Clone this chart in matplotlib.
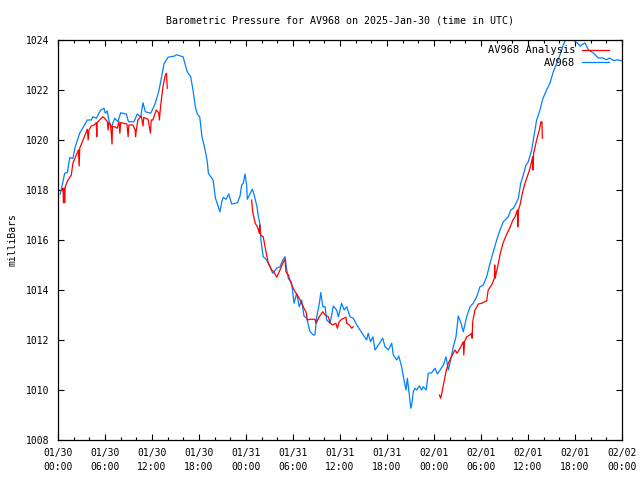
import matplotlib
matplotlib.use("Agg")
import matplotlib.pyplot as plt
import matplotlib.dates as mdates
import pandas as pd

# hours since 2025-01-30 00:00 UTC, pressure in millibars
obs_hours = [
    0.3, 0.85, 1.2, 1.5, 1.9, 2.2, 2.77, 3.2, 3.74, 4.25, 4.47, 4.9, 5.45, 5.87,
    6.04, 6.3, 6.47, 6.8, 7.23, 7.65, 8.0, 8.72, 9.0, 9.7, 10.12, 10.55, 10.85,
    11.15, 11.83, 12.34, 12.85, 13.19, 13.53, 14.04, 14.9, 15.1, 15.96, 16.5,
    16.94, 17.23, 17.53, 17.78, 18.09, 18.38, 18.73, 19.06, 19.2, 19.5, 19.8,
    20.1, 20.47, 20.68, 20.9, 21.1, 21.45, 21.8, 22.17, 22.9, 23.24, 23.45,
    23.65, 23.87, 24.08, 24.17, 24.5, 24.8, 25.05, 25.4, 25.57, 25.8, 25.9,
    26.2, 26.64, 27.07, 27.4, 27.92, 28.34, 28.69, 28.98, 29.2, 29.4, 29.83,
    30.13, 30.47, 30.8, 31.1, 31.4, 31.75, 32.17, 32.6, 32.8, 33.03, 33.37,
    33.55, 33.8, 34.1, 34.3, 34.73, 35.15, 35.57, 35.8, 36.2, 36.53, 36.86,
    37.28, 37.7, 38.14, 38.56, 38.98, 39.4, 39.6, 39.9, 40.2, 40.47, 40.9,
    41.45, 41.75, 42.17, 42.6, 42.8, 43.24, 43.5, 43.87, 44.17, 44.43, 44.6,
    44.85, 45.03, 45.15, 45.36, 45.57, 45.8, 46.13, 46.42, 46.63, 47.0, 47.27,
    47.7, 48.13, 48.43, 48.77, 49.2, 49.53, 49.83, 50.04, 50.46, 50.81, 51.1,
    51.45, 51.74, 52.17, 52.6, 53.0, 53.45, 53.87, 54.3, 54.72, 55.15, 55.57,
    56.0, 56.43, 56.85, 57.49, 57.8, 58.13, 58.47, 58.77, 59.07, 59.4, 59.75,
    60.04, 60.47, 60.68, 61.1, 61.53, 61.87, 62.38, 62.8, 63.23, 63.66, 64.08,
    64.5, 64.85, 65.4, 66.0, 66.3, 66.7, 66.85, 67.28, 67.7, 68.34, 68.98,
    69.6, 70.0, 70.4, 70.97, 71.4, 72.0,
]
obs_mb = [
    1017.84, 1018.67, 1018.7, 1019.3, 1019.26, 1019.73, 1020.27, 1020.5, 1020.8,
    1020.8, 1020.93, 1020.87, 1021.2, 1021.27, 1021.07, 1021.16, 1020.8, 1020.5,
    1020.87, 1020.73, 1021.09, 1021.04, 1020.73, 1020.73, 1021.04, 1020.91,
    1021.49, 1021.13, 1021.07, 1021.4, 1021.93, 1022.47, 1023.04, 1023.31,
    1023.36, 1023.41, 1023.33, 1022.73, 1022.53, 1022.0, 1021.33, 1021.04,
    1020.93, 1020.13, 1019.67, 1019.13, 1018.67, 1018.53, 1018.4, 1017.67,
    1017.33, 1017.13, 1017.53, 1017.71, 1017.63, 1017.84, 1017.44, 1017.49,
    1017.76, 1018.2, 1018.27, 1018.64, 1018.2, 1017.63, 1017.84, 1018.03,
    1017.8, 1017.33, 1016.96, 1016.6, 1016.0, 1015.33, 1015.2, 1014.93,
    1014.67, 1014.87, 1014.93, 1015.2, 1015.33, 1014.8, 1014.47, 1014.27,
    1013.47, 1013.87, 1013.33, 1013.6, 1012.96, 1012.87, 1012.33, 1012.2,
    1012.2, 1012.93, 1013.47, 1013.9, 1013.33, 1013.33, 1012.8, 1012.67,
    1013.36, 1013.2, 1012.93, 1013.47, 1013.2, 1013.33, 1012.93, 1012.87,
    1012.6, 1012.4, 1012.2, 1012.0, 1012.27, 1011.93, 1012.13, 1011.6, 1011.8,
    1012.07, 1011.73, 1011.6, 1011.87, 1011.4, 1011.2, 1011.36, 1010.93,
    1010.4, 1010.0, 1010.47, 1009.8, 1009.27, 1009.4, 1009.93, 1010.07, 1010.0,
    1010.16, 1010.0, 1010.13, 1010.0, 1010.67, 1010.69, 1010.87, 1010.64,
    1010.8, 1011.0, 1011.33, 1010.8, 1011.07, 1011.73, 1012.13, 1012.96,
    1012.67, 1012.33, 1012.93, 1013.33, 1013.47, 1013.73, 1014.13, 1014.2,
    1014.53, 1015.07, 1015.53, 1016.0, 1016.4, 1016.73, 1016.93, 1017.2,
    1017.27, 1017.47, 1017.67, 1018.27, 1018.6, 1019.0, 1019.13, 1019.6,
    1020.0, 1020.8, 1021.2, 1021.63, 1022.0, 1022.27, 1022.73, 1023.07, 1023.4,
    1023.8, 1024.05, 1024.05, 1023.95, 1023.88, 1023.75, 1023.81, 1023.88,
    1023.61, 1023.48, 1023.28, 1023.28, 1023.21, 1023.28, 1023.17, 1023.21,
    1023.17,
]

# analysis comes in three separate runs
ana1_hours = [
    0.5, 0.64, 0.7, 0.77, 0.85, 0.92, 1.28, 1.7, 1.9, 2.34, 2.6, 2.7, 2.77, 3.2,
    3.74, 3.85, 3.95, 4.25, 4.6, 4.89, 4.95, 5.0, 5.3, 5.74, 5.95, 6.3, 6.4,
    6.5, 6.72, 6.9, 6.95, 7.23, 7.55, 7.79, 7.9, 8.0, 8.3, 8.8, 8.95, 9.05,
    9.57, 9.85, 9.9, 10.0, 10.2, 10.64, 10.85, 10.95, 11.5, 11.8, 11.9, 12.1,
    12.55, 12.85, 12.95, 13.05, 13.19, 13.4, 13.7, 13.85, 13.95,
]
ana1_mb = [
    1018.0, 1018.07, 1017.49, 1018.07, 1017.49, 1018.13, 1018.4, 1018.6,
    1019.07, 1019.4, 1019.6, 1018.96, 1019.67, 1020.0, 1020.43, 1020.0, 1020.4,
    1020.56, 1020.6, 1020.69, 1020.13, 1020.69, 1020.8, 1020.93, 1020.87,
    1020.73, 1020.4, 1020.7, 1020.6, 1019.84, 1020.55, 1020.53, 1020.47,
    1020.73, 1020.27, 1020.7, 1020.67, 1020.64, 1020.13, 1020.6, 1020.6,
    1020.4, 1020.13, 1020.4, 1020.8, 1020.96, 1020.56, 1020.9, 1020.83,
    1020.27, 1020.8, 1020.8, 1021.2, 1021.09, 1020.8, 1021.2, 1021.6, 1022.13,
    1022.6, 1022.67, 1022.07,
]
ana2_hours = [
    24.72, 24.8, 24.85, 25.17, 25.45, 25.7, 25.75, 25.85, 26.2, 26.43, 26.64,
    26.85, 27.28, 27.55, 27.92, 28.34, 28.69, 28.98, 29.1, 29.4, 29.83, 30.26,
    30.68, 31.11, 31.4, 31.66, 31.83, 32.17, 32.8, 32.94, 33.36, 33.79, 34.09,
    34.5, 34.73, 35.06, 35.47, 35.66, 35.9, 36.2, 36.77, 36.85, 37.19, 37.5,
    37.7,
]
ana2_mb = [
    1017.6, 1017.3, 1017.13, 1016.67, 1016.53, 1016.27, 1016.6, 1016.2,
    1016.13, 1015.73, 1015.4, 1015.07, 1014.8, 1014.73, 1014.51, 1014.8,
    1015.07, 1015.23, 1014.73, 1014.6, 1014.2, 1013.93, 1013.73, 1013.47,
    1013.27, 1013.13, 1012.8, 1012.83, 1012.83, 1012.67, 1012.93, 1013.13,
    1013.0, 1012.93, 1012.69, 1012.6, 1012.67, 1012.47, 1012.73, 1012.83,
    1012.91, 1012.67, 1012.6, 1012.47, 1012.53,
]
ana3_hours = [
    48.7, 48.85, 48.95, 49.2, 49.53, 49.83, 50.13, 50.46, 50.68, 50.95, 51.32,
    51.53, 51.74, 51.8, 51.9, 52.17, 52.6, 52.8, 52.87, 52.94, 53.23, 53.66,
    54.1, 54.72, 54.92, 55.36, 55.7, 55.75, 55.8, 56.17, 56.47, 56.81, 57.23,
    57.66, 58.07, 58.35, 58.64, 58.7, 58.78, 58.98, 59.32, 59.62, 59.9, 60.26,
    60.6, 60.65, 60.72, 61.1, 61.45, 61.66, 61.78, 61.83,
]
ana3_mb = [
    1009.8, 1009.67, 1009.8, 1010.2, 1010.73, 1011.07, 1011.27, 1011.47,
    1011.6, 1011.47, 1011.67, 1011.8, 1011.93, 1011.4, 1011.93, 1012.13,
    1012.2, 1012.27, 1012.07, 1012.73, 1013.2, 1013.44, 1013.47, 1013.57,
    1014.0, 1014.2, 1014.47, 1015.0, 1014.47, 1015.0, 1015.47, 1015.87,
    1016.2, 1016.47, 1016.8, 1016.93, 1017.2, 1016.53, 1017.2, 1017.4,
    1017.93, 1018.27, 1018.53, 1018.87, 1019.33, 1018.8, 1019.47, 1020.0,
    1020.4, 1020.73, 1020.73, 1020.07,
]

start = pd.Timestamp("2025-01-30 00:00")


def to_time(hours):
    return start + pd.to_timedelta(hours, unit="h")


plt.rcParams["font.family"] = "DejaVu Sans Mono"
plt.rcParams["font.size"] = 7

fig = plt.figure(figsize=(6.4, 4.8), dpi=100)
ax = fig.add_axes([58 / 640, 40 / 480, 564 / 640, 400 / 480])

blue = "#0080ff"
red = "#ff0000"

(obs_line,) = ax.plot(to_time(obs_hours), obs_mb, color=blue, lw=0.9)
(ana_line,) = ax.plot(to_time(ana1_hours), ana1_mb, color=red, lw=0.9)
ax.plot(to_time(ana2_hours), ana2_mb, color=red, lw=0.9)
ax.plot(to_time(ana3_hours), ana3_mb, color=red, lw=0.9)

ax.set_xlim(start, start + pd.Timedelta(hours=72))
ax.set_ylim(1008, 1024)
ax.set_yticks(range(1008, 1025, 2))

ax.xaxis.set_major_locator(mdates.HourLocator(byhour=[0, 6, 12, 18]))
ax.xaxis.set_minor_locator(mdates.HourLocator(interval=2))
ax.xaxis.set_major_formatter(mdates.DateFormatter("%m/%d\n%H:%M"))
for lab in ax.get_xticklabels():
    lab.set_linespacing(1.45)

ax.tick_params(which="both", direction="in", top=True, right=True, color="black")
ax.tick_params(which="major", length=4, width=0.8, pad=6)
ax.tick_params(which="minor", length=2.5, width=0.8)
ax.tick_params(axis="y", pad=6)
for s in ax.spines.values():
    s.set_linewidth(0.9)

ax.set_title("Barometric Pressure for AV968 on 2025-Jan-30 (time in UTC)", pad=12, fontsize=7.2)
ax.set_ylabel("milliBars", labelpad=6)

ax.legend([ana_line, obs_line], ["AV968 Analysis", "AV968"], loc="upper right",
          bbox_to_anchor=(0.986, 1.0), frameon=False, markerfirst=False,
          handlelength=2.6, handletextpad=0.6, borderaxespad=0.1,
          labelspacing=0.25, fontsize=7.5)

fig.savefig("out.png", dpi=100)
